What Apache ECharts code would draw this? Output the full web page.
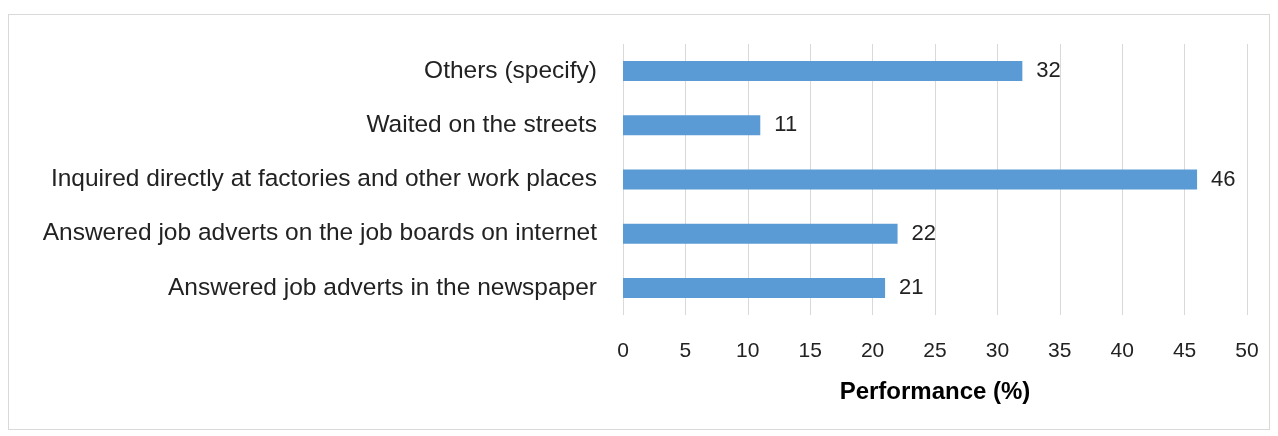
<!DOCTYPE html>
<html>
<head>
<meta charset="utf-8">
<script src="https://cdn.jsdelivr.net/npm/echarts@6/dist/echarts.min.js"></script>
<style>
  html, body { margin: 0; padding: 0; background: #fff; }
  #frame { position: absolute; left: 8px; top: 14px; width: 1262px; height: 416px; border: 1px solid #d9d9d9; box-sizing: border-box; }
  #chart { position: absolute; left: 0; top: 0; width: 1278px; height: 436px; }
</style>
</head>
<body>
<div id="frame"></div>
<div id="chart"></div>
<script>
// Job search methods, bottom to top
const categories = [
  'Answered job adverts in the newspaper',
  'Answered job adverts on the job boards on internet',
  'Inquired directly at factories and other work places',
  'Waited on the streets',
  'Others (specify)'
];
const values = [21, 22, 46, 11, 32];
const axisTitle = 'Performance (%)';

const FONT = '"Liberation Sans", Arial, sans-serif';

const chart = echarts.init(document.getElementById('chart'), null, { renderer: 'canvas' });
chart.setOption({
  animation: false,
  grid: { left: 623, right: 31, top: 44, bottom: 121, containLabel: false },
  xAxis: {
    type: 'value',
    min: 0, max: 50, interval: 5,
    name: axisTitle,
    nameLocation: 'middle',
    nameGap: 65,
    nameTextStyle: { fontFamily: FONT, fontSize: 24, fontWeight: 'bold', color: '#000' },
    axisLine: { show: false },
    axisTick: { show: false },
    axisLabel: { fontFamily: FONT, fontSize: 21, color: '#222', margin: 26 },
    splitLine: { show: true, lineStyle: { color: '#d9d9d9', width: 1 } }
  },
  yAxis: {
    type: 'category',
    data: categories,
    axisLine: { show: false },
    axisTick: { show: false },
    axisLabel: { fontFamily: FONT, fontSize: 24.5, color: '#222', margin: 26 }
  },
  series: [{
    type: 'bar',
    data: values,
    barWidth: 20,
    itemStyle: { color: '#5b9bd5' },
    label: { show: true, position: 'right', distance: 14, fontFamily: FONT, fontSize: 22, color: '#222' }
  }]
});
</script>
</body>
</html>
